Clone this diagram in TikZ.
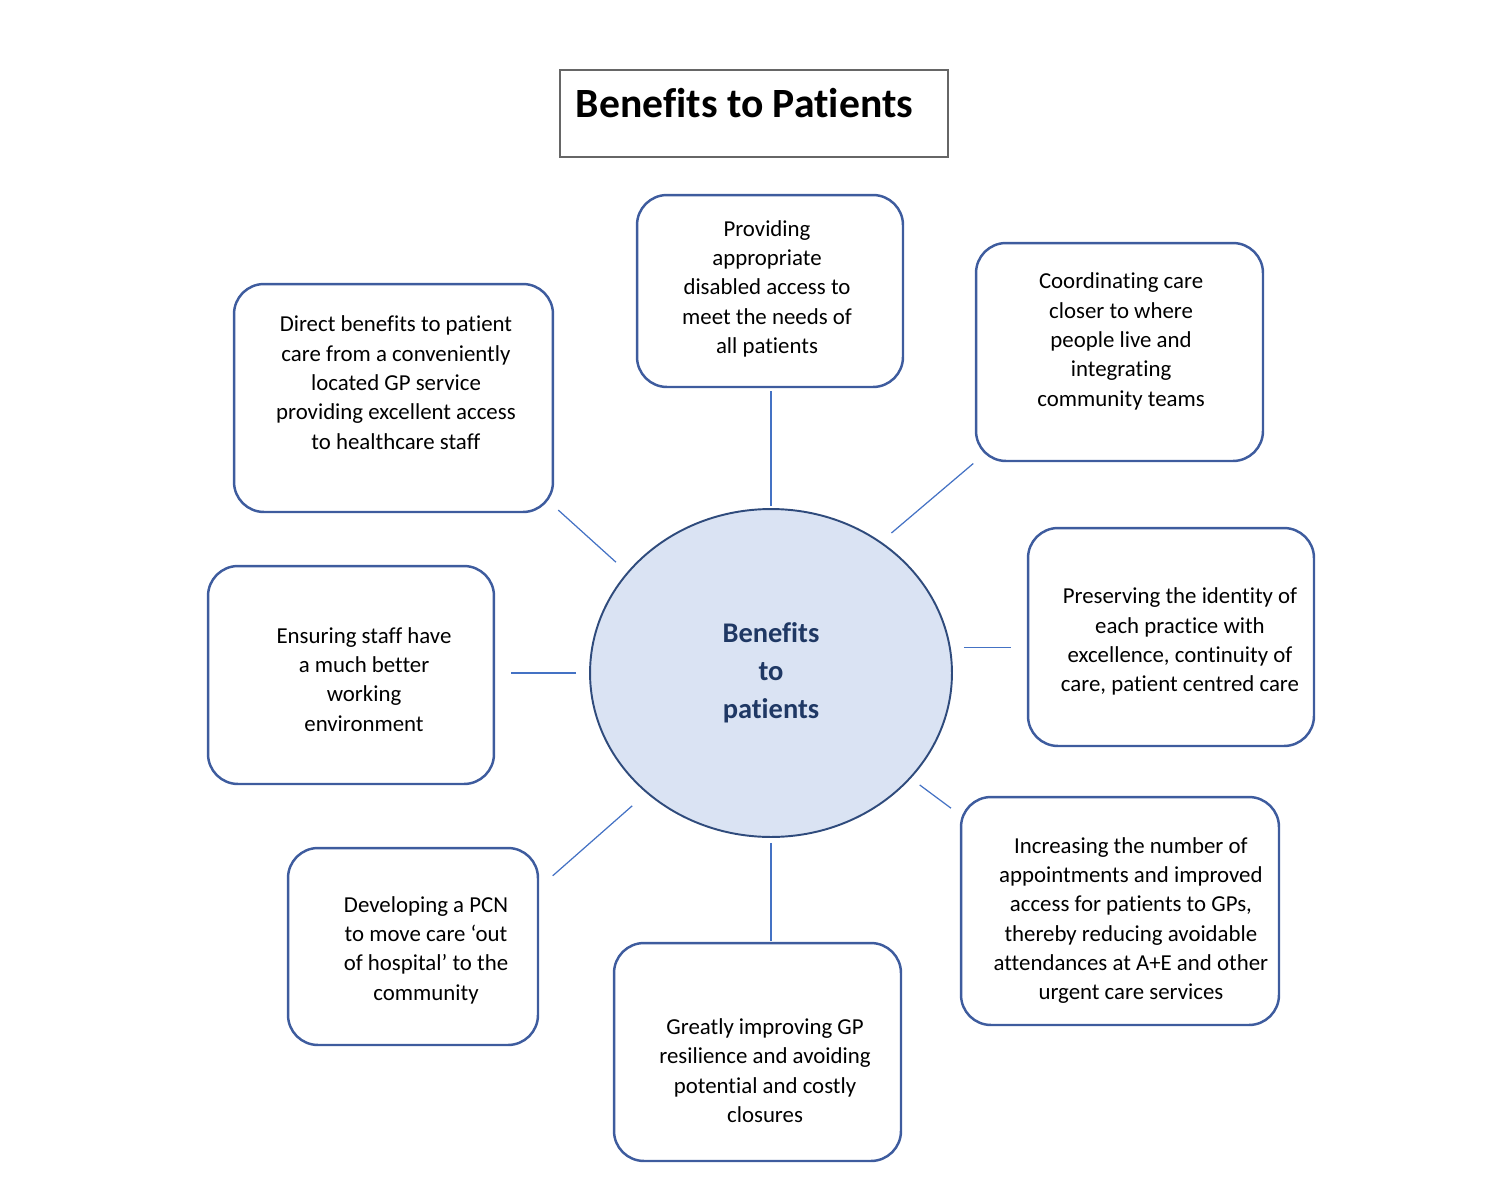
\documentclass[tikz,border=0pt]{standalone}
\usepackage{fontspec}
\setmainfont{Carlito}[Ligatures=NoCommon]
\usetikzlibrary{shapes.geometric}

\definecolor{boxblue}{HTML}{3E5C9E}
\definecolor{linkblue}{HTML}{4472C4}
\definecolor{hubfill}{HTML}{DAE3F3}
\definecolor{hubline}{HTML}{2F4B7C}
\definecolor{hubtext}{HTML}{1F3864}
\definecolor{titlegray}{HTML}{666666}

% text of a box, moved by (#1,#2) from the box centre
\newcommand{\boxtext}[3]{\raisebox{#2}[0pt][0pt]{\makebox[0pt]{\hspace*{#1}\hspace*{#1}\parbox[c]{10cm}{\centering #3}}}}

\begin{document}
\begin{tikzpicture}[
        x=0.02cm, y=-0.02cm,
        benefit/.style={rectangle, draw=boxblue, line width=1.4pt, rounded corners=0.6cm, inner sep=0pt, font=\fontsize{13}{16.7}\selectfont},
        hub/.style={ellipse, draw=hubline, fill=hubfill, line width=1.1pt, inner sep=0pt, align=center, text=hubtext, font=\fontsize{16.2}{21.5}\selectfont\bfseries},
        link/.style={draw=linkblue, line width=0.7pt}
    ]
    \useasboundingbox (0,0) rectangle (1504,1200);

    \node[draw=titlegray, line width=0.8pt, minimum width=7.76cm, minimum height=1.74cm, inner sep=0pt, font=\fontsize{23.7}{28}\selectfont\bfseries] (title) at (754,113.5)
        {\boxtext{-5.4pt}{-0.3pt}{Benefits to Patients}};

    \node[hub, minimum width=7.24cm, minimum height=6.56cm] (hub) at (771,673) {Benefits\\to\\patients};

    \node[benefit, minimum width=5.32cm, minimum height=3.84cm] (access) at (770,291)
        {\boxtext{-1.7pt}{-1.7pt}{Providing\\appropriate\\disabled access to\\meet the needs of\\all patients}};
    \node[benefit, minimum width=6.38cm, minimum height=4.56cm] (direct) at (393.5,398)
        {\boxtext{1.4pt}{5.7pt}{Direct benefits to patient\\care from a conveniently\\located GP service\\providing excellent access\\to healthcare staff}};
    \node[benefit, minimum width=5.74cm, minimum height=4.36cm] (coord) at (1119.5,352)
        {\boxtext{0.9pt}{3.1pt}{Coordinating care\\closer to where\\people live and\\integrating\\community teams}};
    \node[benefit, minimum width=5.72cm, minimum height=4.36cm] (identity) at (1171,637)
        {\boxtext{5.1pt}{-5.7pt}{Preserving the identity of\\each practice with\\excellence, continuity of\\care, patient centred care}};
    \node[benefit, minimum width=5.72cm, minimum height=4.36cm] (staff) at (351,675)
        {\boxtext{7.4pt}{-5.4pt}{Ensuring staff have\\a much better\\working\\environment}};
    \node[benefit, minimum width=5cm, minimum height=3.94cm] (pcn) at (413,946.5)
        {\boxtext{7.4pt}{-5.1pt}{Developing a PCN\\to move care ‘out\\of hospital’ to the\\community}};
    \node[benefit, minimum width=5.74cm, minimum height=4.36cm] (resilience) at (757.5,1052)
        {\boxtext{4.3pt}{-13.6pt}{Greatly improving GP\\resilience and avoiding\\potential and costly\\closures}};
    \node[benefit, minimum width=6.36cm, minimum height=4.56cm] (appts) at (1120,911)
        {\boxtext{6.2pt}{-8.5pt}{Increasing the number of\\appointments and improved\\access for patients to GPs,\\thereby reducing avoidable\\attendances at A+E and other\\urgent care services}};

    % spokes
    \draw[link, shorten <=0.04cm, shorten >=0.06cm] (hub.north) -- (hub.north |- access.south);
    \draw[link, shorten <=0.3cm, shorten >=0.11cm] (hub.145) -- (direct.-34);
    \draw[link, shorten <=0.27cm, shorten >=0.04cm] (hub.50) -- (coord.south west);
    \draw[link, shorten <=0.26cm, shorten >=0.32cm] (hub.8) -- (hub.8 -| identity.west);
    \draw[link, shorten <=0.26cm, shorten >=0.32cm] (hub.west) -- (hub.west -| staff.east);
    \draw[link, shorten <=0.38cm, shorten >=0.36cm] (hub.224) -- (pcn.25);
    \draw[link, shorten <=0.1cm, shorten >=0.02cm] (hub.south) -- (hub.south |- resilience.north);
    \draw[link, shorten <=0.22cm, shorten >=0.22cm] (hub.323) -- (appts.149);
\end{tikzpicture}
\end{document}
